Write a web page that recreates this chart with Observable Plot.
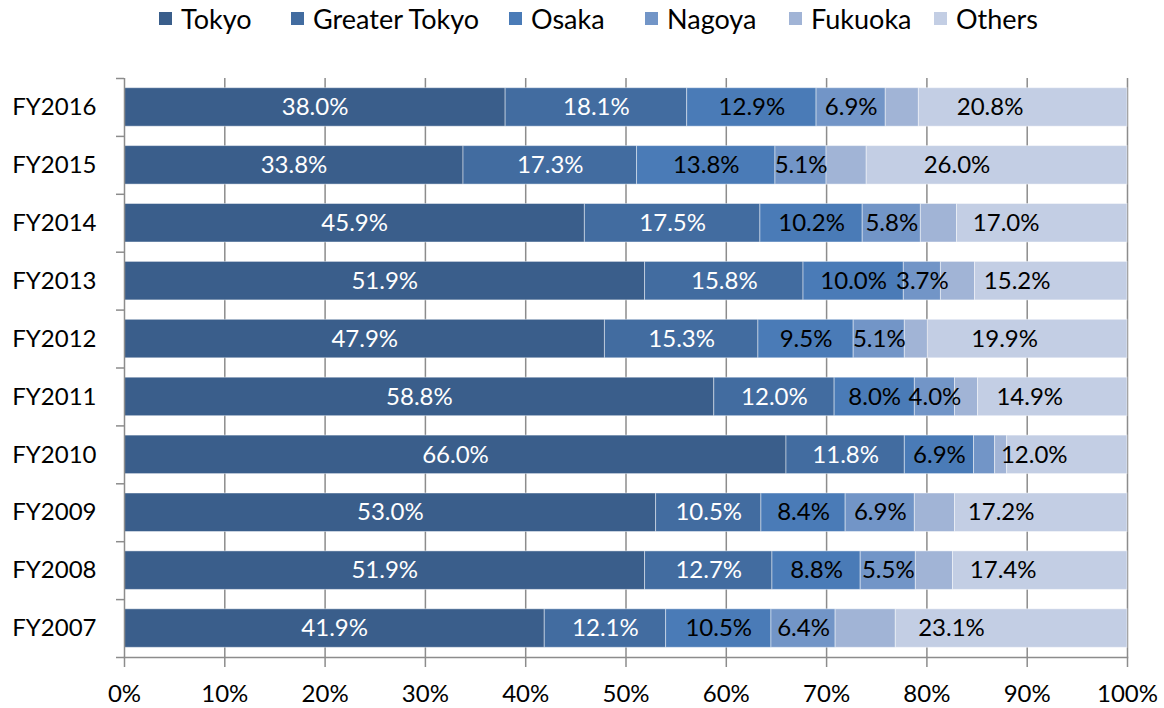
<!DOCTYPE html>
<html>
<head>
<meta charset="utf-8">
<script src="https://cdn.jsdelivr.net/npm/d3@7"></script>
<script src="https://cdn.jsdelivr.net/npm/@observablehq/plot@0.6"></script>
<style>
  html, body { margin: 0; padding: 0; background: #fff; overflow: hidden; font-family: Lato, "Noto Sans", sans-serif; }
  #legend { position: relative; height: 40px; font-size: 27px; color: #000; }
  #legend .item { position: absolute; top: 0; height: 37px; display: flex; align-items: center; white-space: nowrap; }
  #legend .sw { width: 13px; height: 13px; margin-right: 9px; }
  #chart svg { display: block; }
</style>
</head>
<body>
<div id="legend"></div>
<div id="chart"></div>
<script>
const years = ["FY2016","FY2015","FY2014","FY2013","FY2012","FY2011","FY2010","FY2009","FY2008","FY2007"];
const regions = ["Tokyo","Greater Tokyo","Osaka","Nagoya","Fukuoka","Others"];
const colors = ["#3a5e8b","#426ca0","#4a7bb7","#7295c7","#a1b4d6","#c3cee4"];
const tokyo        = [38.0, 33.8, 45.9, 51.9, 47.9, 58.8, 66.0, 53.0, 51.9, 41.9];
const greaterTokyo = [18.1, 17.3, 17.5, 15.8, 15.3, 12.0, 11.8, 10.5, 12.7, 12.1];
const osaka        = [12.9, 13.8, 10.2, 10.0,  9.5,  8.0,  6.9,  8.4,  8.8, 10.5];
const nagoya       = [ 6.9,  5.1,  5.8,  3.7,  5.1,  4.0,  2.1,  6.9,  5.5,  6.4];
const fukuoka      = [ 3.3,  4.0,  3.6,  3.4,  2.3,  2.3,  1.2,  4.0,  3.7,  6.0];
const others       = [20.8, 26.0, 17.0, 15.2, 19.9, 14.9, 12.0, 17.2, 17.4, 23.1];
const xTicks = [0,10,20,30,40,50,60,70,80,90,100];

const series = [tokyo, greaterTokyo, osaka, nagoya, fukuoka, others];
const data = [];
regions.forEach((r, ri) => years.forEach((y, yi) => data.push({year: y, region: r, value: series[ri][yi]})));
const labeled = data.filter(d => d.region !== "Fukuoka" && d.value >= 3);

// legend (HTML, above the SVG)
const legendLeft = [159, 291, 509, 645, 789, 934];
const leg = document.getElementById("legend");
regions.forEach((r, i) => {
  const it = document.createElement("div"); it.className = "item"; it.style.left = legendLeft[i] + "px";
  const sw = document.createElement("div"); sw.className = "sw"; sw.style.background = colors[i];
  const tx = document.createElement("span"); tx.textContent = r;
  it.appendChild(sw); it.appendChild(tx); leg.appendChild(it);
});

const W = 1164, H = 668, mT = 38, mB = 51, mL = 124, mR = 37;
const step = (H - mT - mB) / years.length;
const grid = "#8c8c8c";

const plot = Plot.plot({
  width: W, height: H,
  marginTop: mT, marginBottom: mB, marginLeft: mL, marginRight: mR,
  style: {fontFamily: "Lato, 'Noto Sans', sans-serif", fontSize: "24px", color: "#000", background: "#fff"},
  x: {domain: [0, 100], ticks: xTicks, tickFormat: d => d + "%", label: null},
  y: {domain: years, paddingInner: 0.335, paddingOuter: 0.1675, round: false, label: null},
  color: {domain: regions, range: colors},
  marks: [
    Plot.ruleX(xTicks.slice(1), {stroke: grid, strokeWidth: 1.5}),
    Plot.barX(data, Plot.stackX({x: "value", y: "year", fill: "region", order: regions, stroke: "white", strokeOpacity: 0.45, strokeWidth: 1})),
    Plot.text(labeled, Plot.stackX({x: "value", y: "year", z: "region", order: regions,
      text: d => d.value.toFixed(1) + "%",
      fill: d => (d.region === "Tokyo" || d.region === "Greater Tokyo") ? "white" : "black",
      fontSize: 24})),
    Plot.ruleX([0], {stroke: grid, strokeWidth: 1.5}),
    Plot.frame({anchor: "bottom", stroke: grid, strokeWidth: 1.5}),
    Plot.ruleY(years, {y: d => d, x1: -0.8, x2: 0, dy: -step / 2, stroke: grid, strokeWidth: 1.5}),
    Plot.ruleY(years.slice(-1), {y: d => d, x1: -0.8, x2: 0, dy: step / 2, stroke: grid, strokeWidth: 1.5}),
    Plot.axisX({ticks: xTicks, tickFormat: d => d + "%", tickSize: 10, tickPadding: 17, stroke: grid, strokeWidth: 1.5, fill: "black", fontSize: 24, label: null}),
    Plot.axisY({tickSize: 0, tickPadding: 28, fill: "black", fontSize: 24, label: null})
  ]
});
document.getElementById("chart").appendChild(plot);
</script>
</body>
</html>
